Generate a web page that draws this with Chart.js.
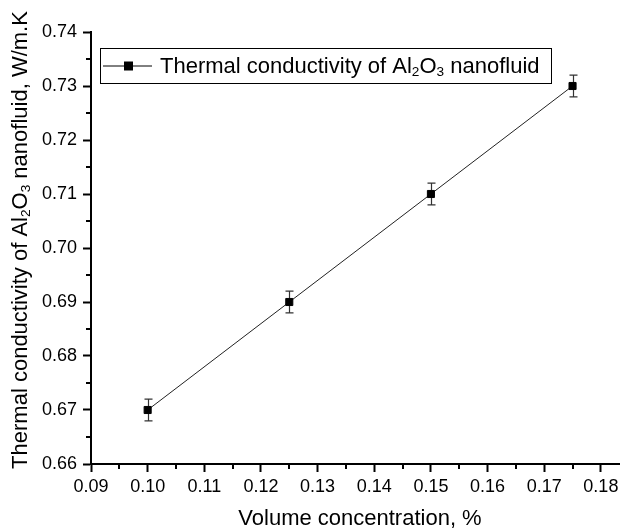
<!DOCTYPE html>
<html>
<head>
<meta charset="utf-8">
<script src="https://cdn.jsdelivr.net/npm/chart.js@4.4.0/dist/chart.umd.min.js"></script>
<style>
  html, body { margin: 0; padding: 0; background: #fff; }
  #wrap { width: 625px; height: 532px; }
</style>
</head>
<body>
<div id="wrap"><canvas id="chart1" width="625" height="532"></canvas></div>
<script>
// data
var volumeConc = [0.100, 0.125, 0.150, 0.175];
var conductivity = [0.670, 0.690, 0.710, 0.730];
var errConductivity = [0.002, 0.002, 0.002, 0.002];
var xTickLabels = ['0.09', '0.10', '0.11', '0.12', '0.13', '0.14', '0.15', '0.16', '0.17', '0.18'];
var yTickLabels = ['0.66', '0.67', '0.68', '0.69', '0.70', '0.71', '0.72', '0.73', '0.74'];

var FONT = '"Liberation Sans", Arial, sans-serif';

// text with subscripts: parts = [[text, isSub], ...]
function richWidth(ctx, parts, size) {
    var w = 0;
    parts.forEach(function(p) {
        ctx.font = (p[1] ? size * 0.62 : size) + 'px ' + FONT;
        w += ctx.measureText(p[0]).width;
    });
    return w;
}
function drawRich(ctx, parts, x, y, size) {
    var cx = x;
    parts.forEach(function(p) {
        ctx.font = (p[1] ? size * 0.62 : size) + 'px ' + FONT;
        ctx.fillText(p[0], cx, p[1] ? y + size * 0.25 : y);
        cx += ctx.measureText(p[0]).width;
    });
}

var legendParts = [['Thermal conductivity of Al', 0], ['2', 1], ['O', 0], ['3', 1], [' nanofluid', 0]];
var yTitleParts = [['Thermal conductivity of Al', 0], ['2', 1], ['O', 0], ['3', 1], [' nanofluid, W/m.K', 0]];

var errorBarPlugin = {
    id: 'errorBars',
    beforeDatasetsDraw: function(chart) {
        var ctx = chart.ctx, xs = chart.scales.x, ys = chart.scales.y;
        ctx.save();
        ctx.strokeStyle = '#333';
        ctx.lineWidth = 1.2;
        for (var i = 0; i < volumeConc.length; i++) {
            var px = Math.round(xs.getPixelForValue(volumeConc[i])) + 0.5;
            var top = ys.getPixelForValue(conductivity[i] + errConductivity[i]);
            var bot = ys.getPixelForValue(conductivity[i] - errConductivity[i]);
            ctx.beginPath();
            ctx.moveTo(px, top); ctx.lineTo(px, bot);
            ctx.moveTo(px - 4, top); ctx.lineTo(px + 4, top);
            ctx.moveTo(px - 4, bot); ctx.lineTo(px + 4, bot);
            ctx.stroke();
        }
        ctx.restore();
    }
};

var decorPlugin = {
    id: 'decor',
    afterDraw: function(chart) {
        var ctx = chart.ctx, xs = chart.scales.x, ys = chart.scales.y, area = chart.chartArea;
        ctx.save();
        // minor ticks
        ctx.strokeStyle = '#000';
        ctx.lineWidth = 2;
        ctx.beginPath();
        for (var i = 0; i < xTickLabels.length - 1; i++) {
            var mx = Math.round(xs.getPixelForValue(parseFloat(xTickLabels[i]) + 0.005));
            ctx.moveTo(mx, area.bottom); ctx.lineTo(mx, area.bottom + 5);
        }
        for (var j = 0; j < yTickLabels.length - 1; j++) {
            var my = Math.round(ys.getPixelForValue(parseFloat(yTickLabels[j]) + 0.005));
            ctx.moveTo(area.left, my); ctx.lineTo(area.left - 5, my);
        }
        ctx.stroke();

        // legend box
        ctx.fillStyle = '#000';
        ctx.textBaseline = 'middle';
        var lx = 100, ly = 48, lh = 35, lw = 451, size = 22;
        ctx.strokeStyle = '#000';
        ctx.lineWidth = 1;
        ctx.strokeRect(lx + 0.5, ly + 0.5, lw, lh);
        ctx.beginPath();
        ctx.moveTo(lx + 3, ly + lh / 2 + 0.5); ctx.lineTo(lx + 52, ly + lh / 2 + 0.5);
        ctx.stroke();
        ctx.fillRect(lx + 24, ly + lh / 2 - 4, 9, 9);
        drawRich(ctx, legendParts, lx + 60, ly + lh / 2 + 1, size);

        // x axis title
        ctx.font = '22px ' + FONT;
        ctx.textAlign = 'center';
        ctx.fillText('Volume concentration, %', 360, 519);

        // y axis title (rotated)
        ctx.textAlign = 'left';
        var tw = richWidth(ctx, yTitleParts, 22);
        ctx.translate(21, 240);
        ctx.rotate(-Math.PI / 2);
        drawRich(ctx, yTitleParts, -tw / 2, 0, 22);
        ctx.restore();
    }
};

var tickFont = { family: FONT, size: 18 };

var char1El = document.getElementById('chart1');
new Chart(char1El, {
    type: 'scatter',
    data: {
        datasets: [{
            label: 'Thermal conductivity of Al2O3 nanofluid',
            data: volumeConc.map(function(v, i) { return { x: v, y: conductivity[i] }; }),
            showLine: true,
            borderColor: '#222',
            borderWidth: 1,
            pointStyle: 'rect',
            pointRadius: 5,
            pointBackgroundColor: '#000',
            pointBorderColor: '#000',
            pointBorderWidth: 1
        }]
    },
    options: {
        responsive: false,
        animation: false,
        layout: { padding: { top: 32, right: 0, left: 0, bottom: 0 } },
        plugins: {
            legend: { display: false },
            tooltip: { enabled: false },
            title: { display: false }
        },
        scales: {
            x: {
                type: 'linear',
                min: 0.09,
                max: 0.1832,
                afterFit: function(s) { s.height = 68; },
                afterBuildTicks: function(s) {
                    s.ticks = xTickLabels.map(function(t) { return { value: parseFloat(t) }; });
                },
                ticks: {
                    color: '#000',
                    font: tickFont,
                    padding: 4,
                    maxRotation: 0,
                    callback: function(v) { return v.toFixed(2); }
                },
                grid: { drawOnChartArea: false, tickLength: 8, tickColor: '#000', tickWidth: 2 },
                border: { display: true, color: '#000', width: 2 }
            },
            y: {
                type: 'linear',
                min: 0.66,
                max: 0.74,
                afterFit: function(s) { s.width = 91; },
                afterBuildTicks: function(s) {
                    s.ticks = yTickLabels.map(function(t) { return { value: parseFloat(t) }; });
                },
                ticks: {
                    color: '#000',
                    font: tickFont,
                    padding: 6,
                    callback: function(v) { return v.toFixed(2); }
                },
                grid: { drawOnChartArea: false, tickLength: 8, tickColor: '#000', tickWidth: 2 },
                border: { display: true, color: '#000', width: 2 }
            }
        }
    },
    plugins: [errorBarPlugin, decorPlugin]
});
</script>
</body>
</html>
